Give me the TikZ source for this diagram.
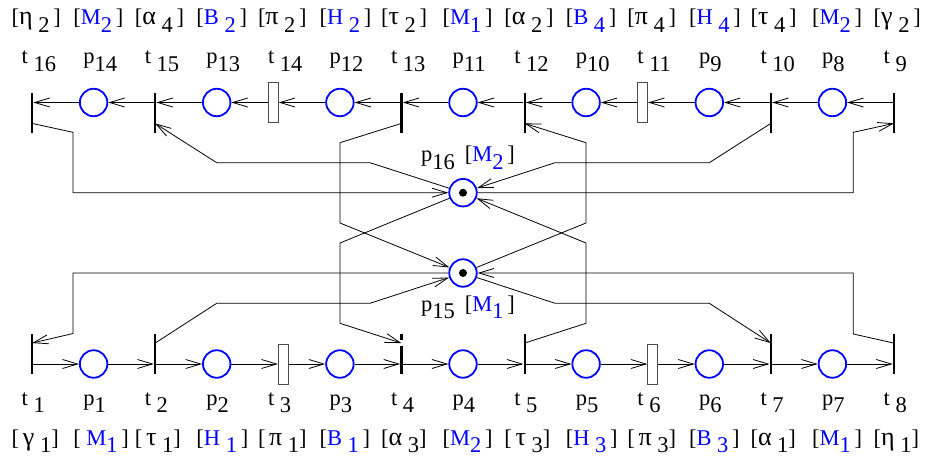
\documentclass[tikz,border=0pt]{standalone}
\usepackage{fontspec}
\setmainfont{Liberation Serif}
\usetikzlibrary{arrows.meta,calc}
\definecolor{pblue}{RGB}{0,0,255}
\newcommand\lo[1]{\raisebox{-7.5pt}{#1}}
\newcommand\bl[1]{\textcolor{pblue}{#1}}
\newcommand\gr[1]{{\fontsize{26}{24}\selectfont #1}}
\begin{document}
\begin{tikzpicture}[x=1pt,y=-1pt,
  place/.style={circle,draw=pblue,line width=1.8pt,minimum size=27.5pt,inner sep=0},
  tokn/.style={circle,fill=black,minimum size=8pt,inner sep=0},
  tbar/.style={rectangle,fill=black,minimum width=2.2pt,minimum height=40pt,inner sep=0},
  tbox/.style={rectangle,draw=black!70,fill=white,line width=0.8pt,minimum width=10pt,minimum height=40pt,inner sep=0},
  arr/.style={-{Straight Barb[length=15pt,width=9pt]},line width=0.8pt},
  lbl/.style={anchor=base west,inner sep=0,font=\fontsize{22.5}{24}\selectfont},
]
\useasboundingbox (0,0) rectangle (932,460);

% ---- top row (y = 102.5) ----
\node[tbar,anchor=north] (t16) at (32,92.5) {};
\node[place] (p14) at (93.6,102.5) {};
\node[tbar,anchor=north] (t15) at (155.1,92.5) {};
\node[place] (p13) at (216.7,102.5) {};
\node[tbox] (t14) at (273.3,102.5) {};
\node[place] (p12) at (339.9,102.5) {};
\node[tbar,anchor=north] (t13) at (401.4,92.5) {};
\node[place] (p11) at (463,102.5) {};
\node[tbar,anchor=north] (t12) at (524.6,92.5) {};
\node[place] (p10) at (586.1,102.5) {};
\node[tbox] (t11) at (642.7,102.5) {};
\node[place] (p9) at (709.3,102.5) {};
\node[tbar,anchor=north] (t10) at (770.8,92.5) {};
\node[place] (p8) at (832.4,102.5) {};
\node[tbar,anchor=north] (t9) at (894,92.5) {};

% ---- bottom row (y = 364) ----
\node[tbar,anchor=south] (t1) at (32,374) {};
\node[place] (p1) at (93.6,364) {};
\node[tbar,anchor=south] (t2) at (155.1,374) {};
\node[place] (p2) at (216.7,364) {};
\node[tbox] (t3) at (283.3,364) {};
\node[place] (p3) at (339.9,364) {};
\node[tbar,anchor=south] (t4) at (401.4,374) {};
\node[place] (p4) at (463,364) {};
\node[tbar,anchor=south] (t5) at (524.6,374) {};
\node[place] (p5) at (586.1,364) {};
\node[tbox] (t6) at (652.7,364) {};
\node[place] (p6) at (709.3,364) {};
\node[tbar,anchor=south] (t7) at (770.8,374) {};
\node[place] (p7) at (832.4,364) {};
\node[tbar,anchor=south] (t8) at (894,374) {};

% ---- resource places ----
\node[place] (p16) at (463,192.7) {};
\node[tokn] (k16) at (p16) {};
\node[place] (p15) at (463,273) {};
\node[tokn] (k15) at (p15) {};

% attachment points on the bars
\foreach \t in {t16,t15,t13,t12,t10,t9}
  \coordinate (\t a) at ($(\t.south)+(0,-9.5)$);
\foreach \t in {t1,t2,t4,t5,t7,t8}
  \coordinate (\t a) at ($(\t.north)+(0,9.5)$);

% gap in the bar of t4
\draw[white,line width=3pt] ($(t4a)+(0,-3.3)$) -- ($(t4a)+(0,3.3)$);

% ---- top row arcs (right to left) ----
\draw[arr] (t9.west |- p8) -- (p8);
\draw[arr] (p8) -- (p8 -| t10.east);
\draw[arr] (t10.west |- p9) -- (p9);
\draw[arr] (p9) -- (t11);
\draw[arr] (t11) -- (p10);
\draw[arr] (p10) -- (p10 -| t12.east);
\draw[arr] (t12.west |- p11) -- (p11);
\draw[arr] (p11) -- (p11 -| t13.east);
\draw[arr] (t13.west |- p12) -- (p12);
\draw[arr] (p12) -- (t14);
\draw[arr] (t14) -- (p13);
\draw[arr] (p13) -- (p13 -| t15.east);
\draw[arr] (t15.west |- p14) -- (p14);
\draw[arr] (p14) -- (p14 -| t16.east);

% ---- bottom row arcs (left to right) ----
\draw[arr] (t1.east |- p1) -- (p1);
\draw[arr] (p1) -- (p1 -| t2.west);
\draw[arr] (t2.east |- p2) -- (p2);
\draw[arr] (p2) -- (t3);
\draw[arr] (t3) -- (p3);
\draw[arr] (p3) -- (p3 -| t4.west);
\draw[arr] (t4.east |- p4) -- (p4);
\draw[arr] (p4) -- (p4 -| t5.west);
\draw[arr] (t5.east |- p5) -- (p5);
\draw[arr] (p5) -- (t6);
\draw[arr] (t6) -- (p6);
\draw[arr] (p6) -- (p6 -| t7.west);
\draw[arr] (t7.east |- p7) -- (p7);
\draw[arr] (p7) -- (p7 -| t8.west);

% ---- resource arcs ----
\draw[arr] (t16a) -- (73,132.3) -- (73,192.7) -- (p16);
\draw[arr] (p16) -- (370,162.7) -- (216.7,162.7) -- (t15a);
\draw[arr] (t13a) -- (340,142.7) -- (340,223) -- (p15);
\draw[arr] (p16) -- (340,243) -- (340,323.3) -- (t4a);
\draw[arr] (p15) -- (586,223) -- (586,142.7) -- (t12a);
\draw[arr] (t5a) -- (586,323.3) -- (586,243) -- (p16);
\draw[arr] (t10a) -- (709.3,162.7) -- (555,162.7) -- (p16);
\draw[arr] (p16) -- (853.3,192.7) -- (853.3,132.3) -- (t9a);
\draw[arr] (p15) -- (73,273) -- (73,333.5) -- (t1a);
\draw[arr] (t2a) -- (216.7,303.3) -- (370,303.3) -- (p15);
\draw[arr] (p15) -- (555,303.3) -- (709.3,303.3) -- (t7a);
\draw[arr] (t8a) -- (853.3,334) -- (853.3,273) -- (p15);

% ---- labels ----
\node[lbl] (l16) at (421,161.7) {p\lo{16}\hspace{10pt}[\bl{M\lo{2}}\,]};
\node[lbl] (l15) at (421,311) {p\lo{15}\hspace{10pt}[\bl{M\lo{1}}\,]};

\foreach \x/\s [count=\i] in {
  32/{t \lo{16}}, 93.6/{p\lo{14}}, 155.1/{t \lo{15}}, 216.7/{p\lo{13}},
  278.3/{t \lo{14}}, 339.9/{p\lo{12}}, 401.4/{t \lo{13}}, 463/{p\lo{11}},
  524.6/{t \lo{12}}, 586.1/{p\lo{10}}, 647.7/{t \lo{11}}, 709.3/{p\lo{9}},
  770.8/{t \lo{10}}, 832.4/{p\lo{8}}, 894/{t \lo{9}}}
  \node[lbl] (tn\i) at (\x-10.5,63.5) {\s};

\foreach \x/\s [count=\i] in {
  32/{[\gr{η} \lo{2}\,]}, 93.6/{[\bl{M\lo{2}}\,]}, 155.1/{[\gr{α} \lo{4}\,]}, 216.7/{[\bl{B \lo{2}}\,]},
  278.3/{[\gr{π} \lo{2}\,]}, 339.9/{[\bl{H \lo{2}}\,]}, 401.4/{[\gr{τ} \lo{2}\,]}, 463/{[\bl{M\lo{1}}\,]},
  524.6/{[\gr{α} \lo{2}\,]}, 586.1/{[\bl{B \lo{4}}\,]}, 647.7/{[\gr{π} \lo{4}\,]}, 709.3/{[\bl{H \lo{4}}\,]},
  770.8/{[\gr{τ} \lo{4}\,]}, 832.4/{[\bl{M\lo{2}}\,]}, 894/{[\gr{γ} \lo{2}\,]}}
  \node[lbl] (tb\i) at (\x-20.5,25) {\s};

\foreach \x/\s [count=\i] in {
  32/{t \lo{1}}, 93.6/{p\lo{1}}, 155.1/{t \lo{2}}, 216.7/{p\lo{2}},
  278.3/{t \lo{3}}, 339.9/{p\lo{3}}, 401.4/{t \lo{4}}, 463/{p\lo{4}},
  524.6/{t \lo{5}}, 586.1/{p\lo{5}}, 647.7/{t \lo{6}}, 709.3/{p\lo{6}},
  770.8/{t \lo{7}}, 832.4/{p\lo{7}}, 894/{t \lo{8}}}
  \node[lbl] (bn\i) at (\x-10.5,405) {\s};

\foreach \x/\s [count=\i] in {
  32/{[\,\gr{γ} \lo{1}]}, 93.6/{[ \bl{M\lo{1}}\,]}, 155.1/{[\,\gr{τ} \lo{1}]}, 216.7/{[\bl{H \lo{1}}\,]},
  278.3/{[\,\gr{π} \lo{1}]}, 339.9/{[\bl{B \lo{1}}\,]}, 401.4/{[\gr{α} \lo{3}]}, 463/{[\bl{M\lo{2}}\,]},
  524.6/{[\,\gr{τ} \lo{3}]}, 586.1/{[\bl{H \lo{3}}\,]}, 647.7/{[\,\gr{π} \lo{3}]}, 709.3/{[\bl{B \lo{3}}\,]},
  770.8/{[\gr{α} \lo{1}]}, 832.4/{[\bl{M\lo{1}}\,]}, 894/{[\gr{η} \lo{1}]}}
  \node[lbl] (bb\i) at (\x-20.5,445) {\s};
\end{tikzpicture}
\end{document}
